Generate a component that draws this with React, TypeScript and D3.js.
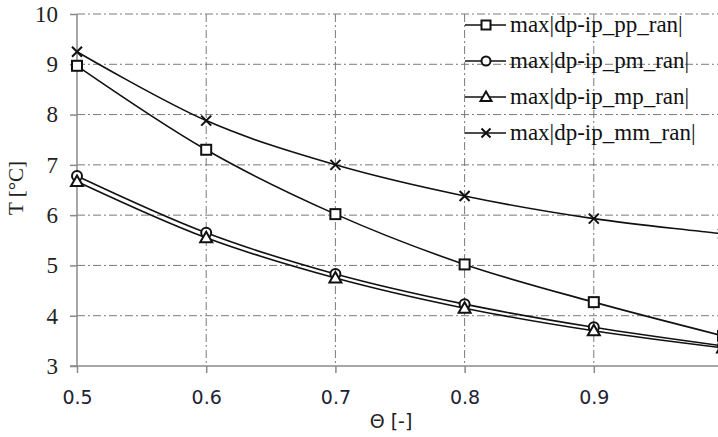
import React, { useEffect, useRef } from 'react';
import * as d3 from 'd3';

// Θ values and the four series
const theta = [0.5, 0.6, 0.7, 0.8, 0.9, 1.0];
const ppValues = [8.97, 7.3, 6.02, 5.02, 4.27, 3.6];
const pmValues = [6.78, 5.65, 4.83, 4.23, 3.77, 3.4];
const mpValues = [6.67, 5.55, 4.75, 4.15, 3.7, 3.36];
const mmValues = [9.25, 7.88, 7.0, 6.38, 5.93, 5.63];
const seriesNames = ['max|dp-ip_pp_ran|', 'max|dp-ip_pm_ran|', 'max|dp-ip_mp_ran|', 'max|dp-ip_mm_ran|'];
const markerKinds = ['square', 'circle', 'triangle', 'cross'];
const xTicks = [0.5, 0.6, 0.7, 0.8, 0.9];
const yTicks = [3, 4, 5, 6, 7, 8, 9, 10];

const drawMarker = (g, kind, x, y, s = 5) => {
    if (kind === 'square') {
        g.append('rect').attr('x', x - s).attr('y', y - s).attr('width', 2 * s).attr('height', 2 * s)
            .attr('fill', 'white').attr('stroke', '#111').attr('stroke-width', 2);
    } else if (kind === 'circle') {
        g.append('circle').attr('cx', x).attr('cy', y).attr('r', s)
            .attr('fill', 'white').attr('stroke', '#111').attr('stroke-width', 2);
    } else if (kind === 'triangle') {
        g.append('path').attr('d', `M${x},${y - s - 1}L${x + s + 1},${y + s * 0.9}L${x - s - 1},${y + s * 0.9}Z`)
            .attr('fill', 'white').attr('stroke', '#111').attr('stroke-width', 2);
    } else {
        g.append('path').attr('d', `M${x - s},${y - s}L${x + s},${y + s}M${x - s},${y + s}L${x + s},${y - s}`)
            .attr('stroke', '#111').attr('stroke-width', 2);
    }
};

const App = () => {
    const ref = useRef(null);

    useEffect(() => {
        const width = 718;
        const height = 437;
        const svg = d3.select(ref.current);
        svg.selectAll('*').remove();

        const x = d3.scaleLinear().domain([0.5, 1.0]).range([77, 723]);
        const y = d3.scaleLinear().domain([3, 10]).range([366, 14]);

        svg.append('rect').attr('width', width).attr('height', height).attr('fill', 'white');

        // grid, dash-dot
        const grid = svg.append('g').attr('stroke', '#7a7a7a').attr('stroke-width', 1).attr('stroke-dasharray', '8,3,2,3');
        yTicks.filter(t => t > 3).forEach(t => {
            grid.append('line').attr('x1', x(0.5)).attr('x2', width).attr('y1', y(t)).attr('y2', y(t));
        });
        xTicks.filter(t => t > 0.5).forEach(t => {
            grid.append('line').attr('x1', x(t)).attr('x2', x(t)).attr('y1', y(10)).attr('y2', y(3));
        });

        // axes
        const yAxis = svg.append('g').attr('transform', `translate(${x(0.5)},0)`)
            .call(d3.axisLeft(y).tickValues(yTicks).tickSize(7).tickPadding(12).tickFormat(d3.format('d')));
        yAxis.select('.domain').attr('stroke', '#8a8a8a').attr('stroke-width', 1.5).attr('d', `M0,${y(10)}V${y(3)}`);
        yAxis.selectAll('.tick line').attr('stroke', '#8a8a8a').attr('stroke-width', 1.5);
        yAxis.selectAll('.tick text').attr('font-family', '"Liberation Serif", serif').attr('font-size', 23).attr('fill', '#222');

        const xAxis = svg.append('g').attr('transform', `translate(0,${y(3)})`)
            .call(d3.axisBottom(x).tickValues(xTicks).tickSize(7).tickPadding(18).tickFormat(d3.format('.1f')));
        xAxis.select('.domain').attr('stroke', '#8a8a8a').attr('stroke-width', 1.5).attr('d', `M${x(0.5) - 7},0H${width}`);
        xAxis.selectAll('.tick line').attr('stroke', '#8a8a8a').attr('stroke-width', 1.5);
        xAxis.selectAll('.tick text').attr('font-family', '"DejaVu Sans", sans-serif').attr('font-size', 19).attr('fill', '#223');

        // axis titles
        svg.append('text').attr('x', 391).attr('y', 428).attr('text-anchor', 'middle')
            .attr('font-family', '"DejaVu Sans", sans-serif').attr('font-size', 19).attr('fill', '#222').text('Θ [-]');
        svg.append('text').attr('transform', 'translate(23,188) rotate(-90)').attr('text-anchor', 'middle')
            .attr('font-family', '"Liberation Serif", serif').attr('font-size', 21).attr('fill', '#222').text('T [°C]');

        // series
        const allSeries = [ppValues, pmValues, mpValues, mmValues];
        const line = d3.line().x(d => x(d[0])).y(d => y(d[1])).curve(d3.curveCardinal.tension(0));
        const plot = svg.append('g');
        allSeries.forEach(vals => {
            plot.append('path').datum(theta.map((t, i) => [t, vals[i]]))
                .attr('d', line).attr('fill', 'none').attr('stroke', '#111').attr('stroke-width', 1.6);
        });
        allSeries.forEach((vals, k) => {
            theta.forEach((t, i) => drawMarker(plot, markerKinds[k], x(t), y(vals[i])));
        });

        // legend
        const legend = svg.append('g');
        seriesNames.forEach((name, i) => {
            const ly = 25 + i * 36;
            legend.append('line').attr('x1', 465).attr('x2', 506).attr('y1', ly).attr('y2', ly)
                .attr('stroke', '#111').attr('stroke-width', 1.6);
            drawMarker(legend, markerKinds[i], 486, ly, 4.5);
            legend.append('text').attr('x', 510).attr('y', ly + 7)
                .attr('font-family', '"Liberation Serif", serif').attr('font-size', 23).attr('fill', '#111').text(name);
        });
    }, []);

    return <svg ref={ref} width={718} height={437} style={{ position: 'absolute', left: 0, top: 0 }} />;
};

export default App;
